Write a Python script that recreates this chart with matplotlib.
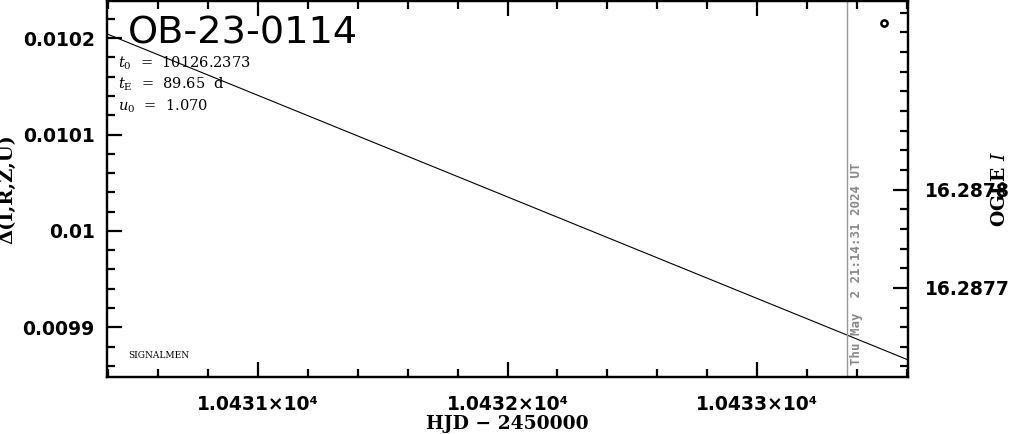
import matplotlib
matplotlib.use("Agg")
import matplotlib.pyplot as plt
from matplotlib.ticker import MultipleLocator, FuncFormatter, FixedLocator
from matplotlib.transforms import offset_copy

# ---- data ----
model_hjd = [10430.4, 10433.6]
model_delta = [0.010204, 0.0098666]
ogle_hjd = [10433.508]
ogle_mag = [16.28797]
now_hjd = 10433.36
event_name = "OB-23-0114"
param_lines = [r"$t_0$  =  10126.2373", r"$t_{\rm E}$  =  89.65  d", r"$u_0$  =  1.070"]
date_text = "Thu May  2 21:14:31 2024 UT"
x_ticks = [10431, 10432, 10433]
x_ticklabels = ["1.0431\u00d710\u2074", "1.0432\u00d710\u2074", "1.0433\u00d710\u2074"]
left_yticks = [0.0099, 0.01, 0.0101, 0.0102]
right_yticks = [16.2877, 16.2878]

plt.rcParams['mathtext.fontset'] = 'dejavuserif'

fig = plt.figure(figsize=(10.11, 4.34), dpi=100)
ax = fig.add_axes([107/1011, 1 - 377/434, (908-107)/1011, 376.5/434])

ax.plot(model_hjd, model_delta, color='black', lw=0.8)
ax.axvline(now_hjd, color='#999999', lw=1.0)

ax.set_xlim(10430.397, 10433.603)
ax.set_ylim(0.0098485, 0.010239)

ax.xaxis.set_major_locator(FixedLocator(x_ticks))
ax.set_xticklabels(x_ticklabels)
ax.xaxis.set_minor_locator(MultipleLocator(0.2))
ax.yaxis.set_major_locator(FixedLocator(left_yticks))
ax.yaxis.set_major_formatter(FuncFormatter(lambda v, p: "%g" % v))
ax.yaxis.set_minor_locator(MultipleLocator(0.00002))

for a in ['top', 'bottom', 'left', 'right']:
    ax.spines[a].set_linewidth(1.6)

ax.tick_params(axis='x', which='both', direction='in', top=True, bottom=True, width=1.6)
ax.tick_params(axis='y', which='both', direction='in', left=True, right=False, width=1.6)
ax.tick_params(which='major', length=11)
ax.tick_params(which='minor', length=5.5)
ax.tick_params(axis='x', which='major', pad=13)
ax.tick_params(axis='y', which='major', pad=9)
for lab in ax.get_xticklabels() + ax.get_yticklabels():
    lab.set_fontsize(13.5)
    lab.set_fontweight('bold')

ax.set_xlabel("HJD \u2212 2450000", family='DejaVu Serif', fontweight='bold', fontsize=13.5, labelpad=1)
ax.set_ylabel("\u0394(I,R,Z,U)", family='DejaVu Serif', fontweight='bold', fontsize=14, labelpad=4)

ax2 = ax.twinx()
ax2.plot(ogle_hjd, ogle_mag, 'o', mfc='none', mec='black', mew=1.8, ms=4.5)
ax2.set_ylim(16.2876093, 16.2879924)
ax2.yaxis.set_major_locator(FixedLocator(right_yticks))
ax2.yaxis.set_major_formatter(FuncFormatter(lambda v, p: "%.4f" % v))
ax2.yaxis.set_minor_locator(MultipleLocator(0.00002))
ax2.tick_params(axis='y', which='both', direction='in', right=True, left=False, width=1.6)
ax2.tick_params(which='major', length=11, pad=12)
ax2.tick_params(which='minor', length=5.5)
for lab in ax2.get_yticklabels():
    lab.set_fontsize(13.5)
    lab.set_fontweight('bold')
ax2.set_ylabel("OGLE $\\mathit{I}$", family='DejaVu Serif', fontweight='bold', fontsize=13.5, labelpad=-13)
for a in ['top', 'bottom', 'left', 'right']:
    ax2.spines[a].set_linewidth(1.6)

# texts
fig.text(128/1011, 1 - 33/434, event_name, fontsize=27.5,
         family='DejaVu Sans', va='center', ha='left')
for i, t in enumerate(param_lines):
    fig.text(118/1011, 1 - (63 + 21.5*i)/434, t, family='DejaVu Serif', fontsize=10.5,
             va='center', ha='left')
fig.text(128/1011, 1 - 355/434, "SIGNALMEN", family='DejaVu Serif', fontsize=6.5,
         va='center', ha='left')
date_tr = offset_copy(ax.get_xaxis_transform(), fig=fig, x=3, y=0, units='dots')
ax.text(now_hjd, 0.031, date_text, transform=date_tr, rotation=90,
        color='#888888', family='DejaVu Sans Mono', fontweight='bold', fontsize=8.9,
        ha='left', va='bottom')

fig.savefig("out.png", dpi=100)
